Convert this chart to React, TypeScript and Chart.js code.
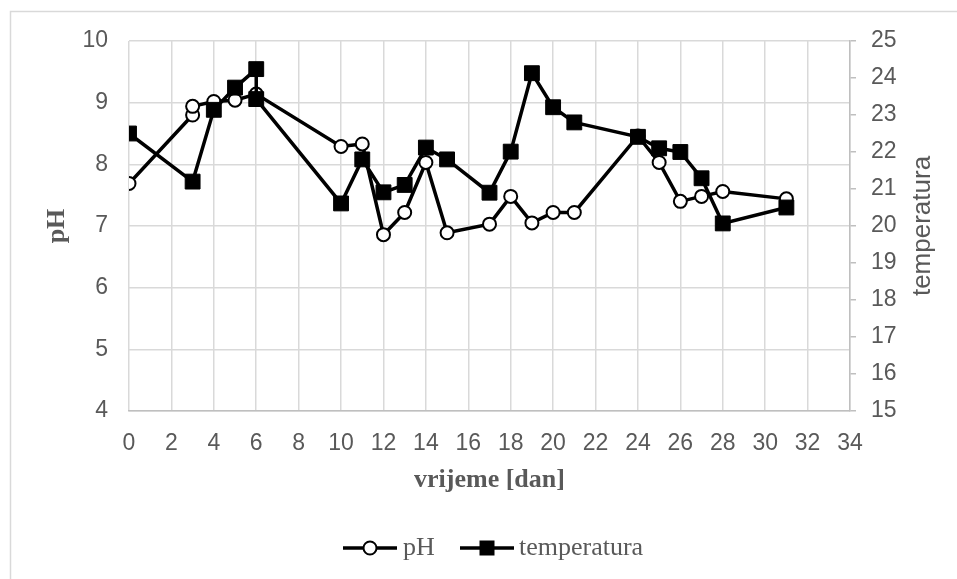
import React, { useEffect, useRef } from "react";
import { Chart, registerables } from "chart.js";

Chart.register(...registerables);

// ---- data ----
const phDays = [0, 3, 3, 4, 5, 6, 10, 11, 12, 13, 14, 15, 17, 18, 19, 20, 21, 24, 25, 26, 27, 28, 31];
const phValues = [7.69, 8.8, 8.94, 9.02, 9.04, 9.14, 8.29, 8.33, 6.86, 7.22, 8.03, 6.89, 7.03, 7.48, 7.05, 7.22, 7.22, 8.46, 8.03, 7.4, 7.48, 7.56, 7.44];

const tempDays = [0, 3, 4, 5, 6, 6, 10, 11, 12, 13, 14, 15, 17, 18, 19, 20, 21, 24, 25, 26, 27, 28, 31];
const tempValues = [22.5, 21.2, 23.14, 23.74, 24.24, 23.43, 20.61, 21.8, 20.91, 21.11, 22.12, 21.8, 20.9, 22.01, 24.13, 23.21, 22.8, 22.41, 22.1, 22.0, 21.29, 20.07, 20.5];

const xRange = [0, 34];
const xStep = 2;
const phRange = [4, 10];
const tempRange = [15, 25];

const seriesNames = ["pH", "temperatura"];
const xTitle = "vrijeme [dan]";
const yTitle = "pH";
const y1Title = "temperatura";

// ---- layout ----
const W = 957;
const H = 579;
const AREA = { left: 129, right: 850, top: 41, bottom: 411 };
const GRAY = "#595959";
const GRID = "#d9d9d9";
const AXIS = "#bfbfbf";
const SANS = "'Liberation Sans', Arial, sans-serif";
const SERIF = "'Liberation Serif', 'Times New Roman', serif";

const decor = {
  id: "decor",
  beforeDraw(chart: any) {
    const ctx = chart.ctx;
    ctx.save();
    ctx.fillStyle = "#fff";
    ctx.fillRect(0, 0, W, H);
    ctx.strokeStyle = GRID;
    ctx.lineWidth = 1.5;
    ctx.strokeRect(10.5, 11.5, W + 20, H + 20);
    ctx.restore();
  },
  afterDraw(chart: any) {
    const ctx = chart.ctx;
    ctx.save();
    ctx.fillStyle = GRAY;
    ctx.textBaseline = "middle";
    ctx.textAlign = "center";
    // x title
    ctx.font = `bold 26px ${SERIF}`;
    ctx.fillText(xTitle, (AREA.left + AREA.right) / 2, 480);
    // left title
    ctx.save();
    ctx.translate(57, (AREA.top + AREA.bottom) / 2);
    ctx.rotate(-Math.PI / 2);
    ctx.fillText(yTitle, 0, 0);
    ctx.restore();
    // right title
    ctx.save();
    ctx.font = `26px ${SANS}`;
    ctx.translate(923, (AREA.top + AREA.bottom) / 2);
    ctx.rotate(-Math.PI / 2);
    ctx.fillText(y1Title, 0, 0);
    ctx.restore();

    // legend
    const ly = 548;
    ctx.strokeStyle = "#000";
    ctx.lineWidth = 3.5;
    // pH
    ctx.beginPath();
    ctx.moveTo(343, ly);
    ctx.lineTo(397, ly);
    ctx.stroke();
    ctx.beginPath();
    ctx.arc(370, ly, 6.5, 0, Math.PI * 2);
    ctx.fillStyle = "#fff";
    ctx.fill();
    ctx.lineWidth = 2;
    ctx.stroke();
    // temperatura
    ctx.lineWidth = 3.5;
    ctx.beginPath();
    ctx.moveTo(460, ly);
    ctx.lineTo(514, ly);
    ctx.stroke();
    ctx.fillStyle = "#000";
    ctx.fillRect(487 - 7.5, ly - 7.5, 15, 15);

    ctx.fillStyle = GRAY;
    ctx.font = `26px ${SERIF}`;
    ctx.textAlign = "left";
    ctx.fillText(seriesNames[0], 403, ly);
    ctx.fillText(seriesNames[1], 519, ly);
    ctx.restore();
  },
};

export default function App() {
  const ref = useRef<HTMLCanvasElement | null>(null);

  useEffect(() => {
    if (!ref.current) return;
    const tickFont = { family: SANS, size: 23 };
    const chart = new Chart(ref.current, {
      type: "line",
      data: {
        datasets: [
          {
            label: seriesNames[0],
            data: phDays.map((d, i) => ({ x: d, y: phValues[i] })),
            xAxisID: "x",
            yAxisID: "y",
            borderColor: "#000",
            borderWidth: 3.5,
            pointStyle: "circle",
            pointRadius: 6.5,
            pointBackgroundColor: "#fff",
            pointBorderColor: "#000",
            pointBorderWidth: 2,
            tension: 0,
            order: 2,
          },
          {
            label: seriesNames[1],
            data: tempDays.map((d, i) => ({ x: d, y: tempValues[i] })),
            xAxisID: "x",
            yAxisID: "y1",
            borderColor: "#000",
            borderWidth: 3.5,
            pointStyle: "rect",
            pointRadius: 10.5,
            pointBackgroundColor: "#000",
            pointBorderColor: "#000",
            pointBorderWidth: 1,
            tension: 0,
            order: 1,
          },
        ],
      },
      options: {
        responsive: false,
        animation: false,
        devicePixelRatio: 1,
        layout: { padding: { top: AREA.top, left: 0, right: 0, bottom: 0 } },
        plugins: {
          legend: { display: false },
          tooltip: { enabled: false },
          title: { display: false },
        },
        scales: {
          x: {
            type: "linear",
            position: "bottom",
            min: xRange[0],
            max: xRange[1],
            ticks: { stepSize: xStep, font: tickFont, color: GRAY, padding: 19, maxRotation: 0, autoSkip: false },
            grid: { color: GRID, lineWidth: 1.5, drawTicks: false },
            border: { display: true, color: AXIS, width: 1.5 },
            afterFit: (s: any) => {
              s.height = H - AREA.bottom;
            },
          },
          y: {
            type: "linear",
            position: "left",
            min: phRange[0],
            max: phRange[1],
            ticks: { stepSize: 1, font: tickFont, color: GRAY, padding: 21 },
            grid: { color: GRID, lineWidth: 1.5, drawTicks: false },
            border: { display: false },
            afterFit: (s: any) => {
              s.width = AREA.left;
            },
          },
          y1: {
            type: "linear",
            position: "right",
            min: tempRange[0],
            max: tempRange[1],
            ticks: { stepSize: 1, font: tickFont, color: GRAY, padding: 15 },
            grid: { drawOnChartArea: false, drawTicks: true, tickLength: 6, color: AXIS, lineWidth: 1.5 },
            border: { display: true, color: AXIS, width: 1.5 },
            afterFit: (s: any) => {
              s.width = W - AREA.right;
            },
          },
        },
      },
      plugins: [decor],
    } as any);
    return () => chart.destroy();
  }, []);

  return (
    <div style={{ position: "fixed", left: 0, top: 0, width: W, height: H, background: "#fff" }}>
      <canvas ref={ref} width={W} height={H} style={{ width: W, height: H, display: "block" }} />
    </div>
  );
}
